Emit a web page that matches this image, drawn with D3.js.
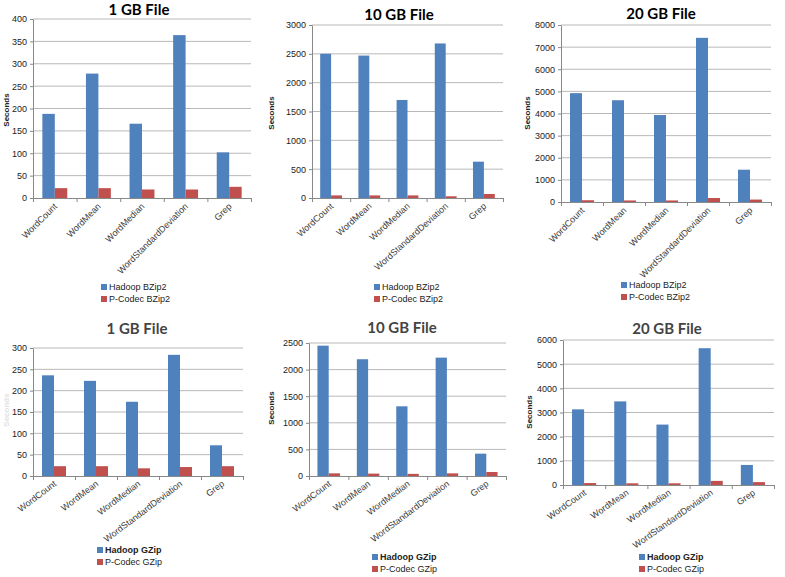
<!DOCTYPE html>
<html>
<head>
<meta charset="utf-8">
<script src="https://cdn.jsdelivr.net/npm/d3@7"></script>
<style>
  body { margin: 0; background: #fff; }
  svg { display: block; }
  .tick text { font-family: "Liberation Sans", Arial, sans-serif; }
</style>
</head>
<body>
<div id="chart"></div>
<script>
// --- data ---
const categories = ["WordCount", "WordMean", "WordMedian", "WordStandardDeviation", "Grep"];

const bzip1Hadoop = [188, 278, 166, 364, 102];
const bzip1Pcodec = [22, 22, 19, 19, 25];
const bzip10Hadoop = [2500, 2470, 1700, 2680, 630];
const bzip10Pcodec = [45, 45, 45, 30, 70];
const bzip20Hadoop = [4920, 4600, 3930, 7420, 1460];
const bzip20Pcodec = [80, 70, 70, 180, 110];

const gzip1Hadoop = [236, 223, 174, 284, 72];
const gzip1Pcodec = [23, 23, 18, 21, 23];
const gzip10Hadoop = [2450, 2195, 1310, 2225, 420];
const gzip10Pcodec = [50, 45, 40, 50, 75];
const gzip20Hadoop = [3130, 3460, 2500, 5660, 830];
const gzip20Pcodec = [80, 70, 70, 170, 120];

const blue = "#4f81bd", red = "#c0504d";

const svg = d3.select("#chart")
    .append("svg")
    .attr("width", 785)
    .attr("height", 577);

// one panel per file size / codec
const panels = [
    { title: "1 GB File", hadoop: bzip1Hadoop, pcodec: bzip1Pcodec, names: ["Hadoop BZip2", "P-Codec BZip2"],
      yMax: 400, yStep: 50, left: 33, right: 251, top: 19, bottom: 198, titleX: 139, titleY: 14, angle: 45,
      ylabX: 6, ylabY: 110, ylabColor: "#222", legX: 101, legY: 287, titleColor: "#000", legBold: false },
    { title: "10 GB File", hadoop: bzip10Hadoop, pcodec: bzip10Pcodec, names: ["Hadoop BZip2", "P-Codec BZip2"],
      yMax: 3000, yStep: 500, left: 312, right: 503, top: 25, bottom: 198, titleX: 399, titleY: 19, angle: 42,
      ylabX: 271, ylabY: 113, ylabColor: "#222", legX: 374, legY: 287, titleColor: "#000", legBold: false },
    { title: "20 GB File", hadoop: bzip20Hadoop, pcodec: bzip20Pcodec, names: ["Hadoop BZip2", "P-Codec BZip2"],
      yMax: 8000, yStep: 1000, left: 561, right: 771, top: 25, bottom: 202, titleX: 661, titleY: 18, angle: 45,
      ylabX: 527, ylabY: 113, ylabColor: "#222", legX: 621, legY: 285, titleColor: "#000", legBold: false },
    { title: "1 GB File", hadoop: gzip1Hadoop, pcodec: gzip1Pcodec, names: ["Hadoop GZip", "P-Codec GZip"],
      yMax: 300, yStep: 50, left: 33, right: 243, top: 348, bottom: 476, titleX: 137, titleY: 333, angle: 37,
      ylabX: 6, ylabY: 410, ylabColor: "#e2e2e2", legX: 97, legY: 550, titleColor: "#444", legBold: true },
    { title: "10 GB File", hadoop: gzip10Hadoop, pcodec: gzip10Pcodec, names: ["Hadoop GZip", "P-Codec GZip"],
      yMax: 2500, yStep: 500, left: 309, right: 506, top: 343, bottom: 476, titleX: 402, titleY: 332, angle: 37,
      ylabX: 271, ylabY: 408, ylabColor: "#222", legX: 372, legY: 557, titleColor: "#444", legBold: true },
    { title: "20 GB File", hadoop: gzip20Hadoop, pcodec: gzip20Pcodec, names: ["Hadoop GZip", "P-Codec GZip"],
      yMax: 6000, yStep: 1000, left: 563, right: 774, top: 340, bottom: 485, titleX: 667, titleY: 333, angle: 35,
      ylabX: 529, ylabY: 412, ylabColor: "#222", legX: 639, legY: 557, titleColor: "#444", legBold: true }
];

panels.forEach(p => drawPanel(p));

function drawPanel(p) {
    const g = svg.append("g");

    const x = d3.scaleBand().domain(categories).range([p.left, p.right]).padding(0);
    const xs = d3.scaleBand().domain(["hadoop", "pcodec"]).range([0, x.bandwidth()])
        .paddingInner(0).paddingOuter(0.75);
    const y = d3.scaleLinear().domain([0, p.yMax]).range([p.bottom, p.top]);
    const yTicks = d3.range(0, p.yMax + p.yStep / 2, p.yStep);

    // gridlines
    g.selectAll(".grid")
        .data(yTicks.filter(d => d > 0))
        .enter()
        .append("line")
        .attr("x1", p.left)
        .attr("x2", p.right)
        .attr("y1", d => y(d))
        .attr("y2", d => y(d))
        .attr("stroke", "#b8b8b8")
        .attr("stroke-width", 1);

    // y axis
    const yAxis = g.append("g")
        .attr("transform", `translate(${p.left},0)`)
        .call(d3.axisLeft(y).tickValues(yTicks).tickFormat(d3.format("d"))
            .tickSize(3).tickSizeOuter(0).tickPadding(3));
    yAxis.select(".domain").attr("stroke", "#888");
    yAxis.selectAll(".tick line").attr("stroke", "#888");
    yAxis.selectAll(".tick text").attr("fill", "#222").style("font-size", "9px");

    // x axis (tick marks sit between categories)
    const xb = d3.scaleLinear().domain([0, categories.length]).range([p.left, p.right]);
    const xAxis = g.append("g")
        .attr("transform", `translate(0,${p.bottom})`)
        .call(d3.axisBottom(xb).ticks(categories.length).tickSize(4).tickSizeOuter(0).tickFormat(""));
    xAxis.select(".domain").attr("stroke", "#888");
    xAxis.selectAll(".tick line").attr("stroke", "#888");

    // bars
    const rows = categories.map((c, i) => ({ cat: c, hadoop: p.hadoop[i], pcodec: p.pcodec[i] }));
    ["hadoop", "pcodec"].forEach(s => {
        g.selectAll(".bar-" + s)
            .data(rows)
            .enter()
            .append("rect")
            .attr("x", d => x(d.cat) + xs(s))
            .attr("width", xs.bandwidth())
            .attr("y", d => y(d[s]))
            .attr("height", d => y(0) - y(d[s]))
            .attr("fill", s === "hadoop" ? blue : red);
    });

    // category labels
    g.selectAll(".cat")
        .data(categories)
        .enter()
        .append("text")
        .attr("transform", d => `translate(${x(d) + x.bandwidth() / 2 + 3},${p.bottom + 9}) rotate(${-p.angle})`)
        .attr("text-anchor", "end")
        .attr("fill", "#3a3a3a")
        .style("font-family", "Liberation Sans, Arial, sans-serif")
        .style("font-size", "9px")
        .text(d => d);

    // title
    g.append("text")
        .attr("x", p.titleX)
        .attr("y", p.titleY + 1)
        .attr("text-anchor", "middle")
        .attr("fill", p.titleColor)
        .style("font-family", "Lato, sans-serif")
        .style("font-weight", "bold")
        .style("font-size", "15px")
        .text(p.title);

    // y label
    g.append("text")
        .attr("transform", `translate(${p.ylabX},${p.ylabY}) rotate(-90)`)
        .attr("text-anchor", "middle")
        .attr("dy", "0.35em")
        .attr("fill", p.ylabColor)
        .style("font-family", "Liberation Sans, Arial, sans-serif")
        .style("font-weight", "bold")
        .style("font-size", "8px")
        .text("Seconds");

    // legend
    const leg = g.selectAll(".leg")
        .data(p.names)
        .enter()
        .append("g")
        .attr("transform", (d, i) => `translate(${p.legX},${p.legY + i * 12})`);
    leg.append("rect")
        .attr("x", 0)
        .attr("y", -3)
        .attr("width", 6)
        .attr("height", 6)
        .attr("fill", (d, i) => i === 0 ? blue : red);
    leg.append("text")
        .attr("x", 8)
        .attr("dy", "0.35em")
        .attr("fill", "#222")
        .style("font-family", "Liberation Sans, Arial, sans-serif")
        .style("font-size", "9px")
        .style("font-weight", (d, i) => p.legBold && i === 0 ? "bold" : "normal")
        .text(d => d);
}
</script>
</body>
</html>
